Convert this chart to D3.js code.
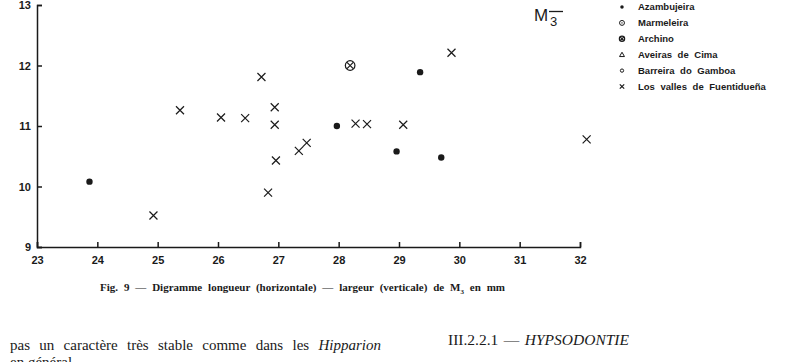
<!DOCTYPE html>
<html>
<head>
<meta charset="utf-8">
<script src="https://cdn.jsdelivr.net/npm/d3@7"></script>
<style>
  body { margin: 0; background: #fff; }
  svg { display: block; }
</style>
</head>
<body>
<svg id="chart" width="798" height="362"></svg>
<script>
// longueur (x) / largeur (y) de M3, mm
const azambujeiraLen = [23.87, 27.97, 29.35, 28.96, 29.70];
const azambujeiraWid = [10.08, 11.00, 11.89, 10.58, 10.48];

const archinoLen = [28.19];
const archinoWid = [12.00];

const fuentiduenaLen = [25.37, 26.05, 26.45, 26.72, 26.94, 26.94, 28.28, 28.47, 29.87, 29.07, 24.93, 26.83, 26.96, 27.34, 27.47, 32.11];
const fuentiduenaWid = [11.26, 11.14, 11.13, 11.81, 11.31, 11.02, 11.04, 11.03, 12.21, 11.02, 9.52, 9.90, 10.43, 10.59, 10.72, 10.78];

const xTicks = [23, 24, 25, 26, 27, 28, 29, 30, 31, 32];
const yTicks = [9, 10, 11, 12, 13];

const legendNames = ['Azambujeira', 'Marmeleira', 'Archino', 'Aveiras de Cima', 'Barreira do Gamboa', 'Los valles de Fuentidueña'];
const legendKinds = ['dot', 'dotcircle', 'crosscircle', 'triangle', 'circle', 'cross'];

const ink = '#1a1a1a';
const svg = d3.select('#chart');

const x = d3.scaleLinear().domain([23, 32]).range([37, 580]);
const y = d3.scaleLinear().domain([9, 13]).range([247, 5]);

// axes: ticks pointing inward
const xAxis = svg.append('g')
  .attr('transform', `translate(0,${y(9)})`)
  .call(d3.axisBottom(x).tickValues(xTicks).tickSize(-5).tickPadding(9).tickFormat(d3.format('d')));
const yAxis = svg.append('g')
  .attr('transform', `translate(${x(23)},0)`)
  .call(d3.axisLeft(y).tickValues(yTicks).tickSize(-5).tickPadding(6).tickFormat(d3.format('d')));

[xAxis, yAxis].forEach(a => {
  a.selectAll('path, line').attr('stroke', ink).attr('stroke-width', 1.5);
  a.selectAll('text')
    .attr('fill', ink)
    .style('font-family', '"Liberation Sans", Arial, sans-serif')
    .style('font-weight', 'bold')
    .style('font-size', '11px');
});

// markers
const cross = (g, cx, cy, s) => {
  g.append('path')
    .attr('d', `M${cx - s},${cy - s}L${cx + s},${cy + s}M${cx - s},${cy + s}L${cx + s},${cy - s}`)
    .attr('stroke', ink).attr('stroke-width', 1.2).attr('fill', 'none');
};

const drawMarker = (g, kind, cx, cy, k) => {
  if (kind === 'dot') {
    g.append('circle').attr('cx', cx).attr('cy', cy).attr('r', 3.2 * k).attr('fill', ink);
  } else if (kind === 'dotcircle') {
    g.append('circle').attr('cx', cx).attr('cy', cy).attr('r', 4.5 * k).attr('fill', 'none').attr('stroke', ink).attr('stroke-width', 1);
    g.append('circle').attr('cx', cx).attr('cy', cy).attr('r', 1.3 * k).attr('fill', ink);
  } else if (kind === 'crosscircle') {
    g.append('circle').attr('cx', cx).attr('cy', cy).attr('r', 4.8 * k).attr('fill', 'none').attr('stroke', ink).attr('stroke-width', 1.2);
    cross(g, cx, cy, 3.1 * k);
  } else if (kind === 'triangle') {
    const s = 4.5 * k;
    g.append('path').attr('d', `M${cx},${cy - s}L${cx + s},${cy + s * 0.75}L${cx - s},${cy + s * 0.75}Z`)
      .attr('fill', 'none').attr('stroke', ink).attr('stroke-width', 1);
  } else if (kind === 'circle') {
    g.append('circle').attr('cx', cx).attr('cy', cy).attr('r', 3 * k).attr('fill', 'none').attr('stroke', ink).attr('stroke-width', 1);
  } else {
    cross(g, cx, cy, 4 * k);
  }
};

const pts = svg.append('g');
azambujeiraLen.forEach((d, i) => drawMarker(pts, 'dot', x(d), y(azambujeiraWid[i]), 1));
archinoLen.forEach((d, i) => drawMarker(pts, 'crosscircle', x(d), y(archinoWid[i]), 1));
fuentiduenaLen.forEach((d, i) => drawMarker(pts, 'cross', x(d), y(fuentiduenaWid[i]), 1));

// legend
const leg = svg.append('g');
legendNames.forEach((name, i) => {
  const ly = 7 + i * 15.9;
  drawMarker(leg, legendKinds[i], 622, ly, 0.55);
  leg.append('text')
    .attr('x', 638).attr('y', ly + 3.4)
    .attr('fill', ink)
    .style('font-family', '"Liberation Sans", Arial, sans-serif')
    .style('font-weight', 'bold')
    .style('font-size', '9.5px')
    .style('word-spacing', '3px')
    .text(name);
});

// M3 label
const mlab = svg.append('g').attr('fill', ink).style('font-family', '"Liberation Sans", Arial, sans-serif');
mlab.append('text').attr('x', 534).attr('y', 21).style('font-size', '17px').text('M');
mlab.append('text').attr('x', 550).attr('y', 26).style('font-size', '13px').text('3');
mlab.append('line').attr('x1', 549).attr('x2', 563).attr('y1', 11.5).attr('y2', 11.5).attr('stroke', ink).attr('stroke-width', 1.3);

// fit text to a measured width by stretching word gaps
const fit = (t, width) => {
  const w = t.node().getComputedTextLength();
  const gaps = (t.text().match(/ /g) || []).length;
  if (gaps) t.style('word-spacing', ((width - w) / gaps) + 'px');
};

const serif = '"Liberation Serif", "Times New Roman", serif';

const cap = svg.append('text')
  .attr('x', 100).attr('y', 291)
  .attr('fill', ink)
  .style('font-family', serif)
  .style('font-weight', 'bold')
  .style('font-size', '11px');
cap.append('tspan').text('Fig. 9 — Digramme longueur (horizontale) — largeur (verticale) de M');
cap.append('tspan').attr('dy', 2.5).style('font-size', '7px').text('3');
cap.append('tspan').attr('dy', -2.5).text(' en mm');
fit(cap, 405);

const body1 = svg.append('text')
  .attr('x', 10).attr('y', 350)
  .attr('fill', ink)
  .style('font-family', serif)
  .style('font-size', '15px');
body1.append('tspan').text('pas un caractère très stable comme dans les ');
body1.append('tspan').style('font-style', 'italic').text('Hipparion');
fit(body1, 371);

svg.append('text')
  .attr('x', 10).attr('y', 367)
  .attr('fill', ink)
  .style('font-family', serif)
  .style('font-size', '15px')
  .text('en général');

const head = svg.append('text')
  .attr('x', 448).attr('y', 345)
  .attr('fill', ink)
  .style('font-family', serif)
  .style('font-size', '15.5px');
head.append('tspan').text('III.2.2.1 — ');
head.append('tspan').style('font-style', 'italic').text('HYPSODONTIE');
fit(head, 181);
</script>
</body>
</html>
